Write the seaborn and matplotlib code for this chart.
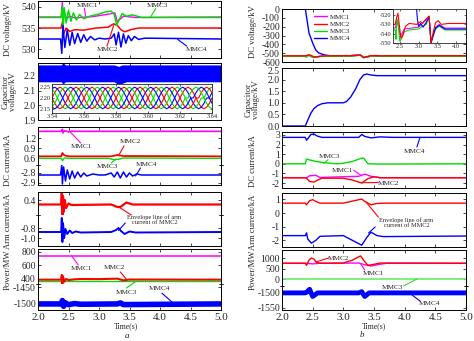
import numpy as np
import matplotlib
matplotlib.use("Agg")
import matplotlib.pyplot as plt
from matplotlib.lines import Line2D
from matplotlib.transforms import ScaledTranslation
import seaborn as sns

sns.set_style("ticks")
plt.rcParams['font.family'] = ['Liberation Serif', 'DejaVu Serif']
plt.rcParams['axes.unicode_minus'] = False

C1, C2, C3, C4 = '#ff00ff', '#ff0000', '#00dd00', '#0000ff'
series_names = ['MMC1', 'MMC2', 'MMC3', 'MMC4']
time_ticks = [2.0, 2.5, 3.0, 3.5, 4.0, 4.5, 5.0]
time_labels = ['2.0', '2.5', '3.0', '3.5', '4.0', '4.5', '5.0']

# ---------------- (a) DC voltage / kV ----------------
a_v1_t = [2.0, 2.38, 2.40, 2.41, 2.43, 2.47, 2.52, 2.60, 2.9, 3.2, 3.26, 3.3, 3.4, 3.6, 5.0]
a_v1 = [537.6, 537.6, 541.2, 537.0, 538.5, 537.2, 537.8, 537.4, 537.7, 538.4, 538.6, 536.5, 537.8, 537.5, 537.6]
a_v2_t = [2.0, 2.38, 2.40, 2.42, 2.46, 2.52, 2.60, 2.75, 2.95, 3.15, 3.24, 3.30, 3.36, 3.42, 3.52, 3.65, 5.0]
a_v2 = [535.0, 535.0, 536.4, 533.6, 535.0, 534.2, 534.6, 534.5, 535.0, 535.2, 536.0, 535.6, 534.6, 534.1, 534.6, 535.0, 535.0]
a_v3_t = [2.0, 2.38, 2.40, 2.41, 2.43, 2.46, 2.50, 2.54, 2.58, 2.63, 2.68, 2.75, 2.85, 3.0, 3.1, 3.2,
          3.25, 3.29, 3.33, 3.38, 3.45, 3.55, 3.7, 5.0]
a_v3 = [537.5, 537.5, 540.2, 534.8, 539.8, 536.2, 539.2, 536.6, 538.6, 536.9, 538.2, 537.2, 537.8, 538.3, 538.8, 539.0,
        538.2, 535.6, 537.0, 538.4, 537.8, 538.1, 537.5, 537.5]
a_v4_t = [2.0, 2.37, 2.39, 2.41, 2.44, 2.48, 2.52, 2.56, 2.60, 2.65, 2.70, 2.75, 2.80, 2.86, 2.93, 3.0, 3.1, 3.2,
          3.25, 3.28, 3.32, 3.36, 3.40, 3.44, 3.48, 3.53, 3.58, 3.65, 3.75, 5.0]
a_v4 = [532.4, 532.4, 529.0, 535.6, 530.4, 534.6, 530.9, 534.0, 531.3, 533.7, 531.6, 533.4, 531.9, 533.0, 532.2, 532.6,
        532.4, 532.6, 533.6, 531.0, 534.0, 530.5, 533.6, 531.4, 533.2, 532.0, 533.0, 532.3, 532.6, 532.4]

# ---------------- (a) Capacitor voltage / kV ----------------
a_cap_t = [2.0, 2.38, 2.41, 2.45, 2.5, 3.25, 3.32, 3.38, 3.45, 5.0]
a_cap_hi = [2.275, 2.275, 2.29, 2.275, 2.275, 2.275, 2.265, 2.275, 2.275, 2.275]
a_cap_lo = [2.16, 2.16, 2.145, 2.16, 2.16, 2.16, 2.14, 2.15, 2.16, 2.16]
inset_cycle = [2.200, 2.225, 2.243, 2.250, 2.243, 2.225, 2.200, 2.175, 2.157, 2.150, 2.157, 2.175]
inset_colors = [C2, C4, C3, C2, C4, C3]
inset_xticks = [3.54, 3.56, 3.58, 3.60, 3.62, 3.64]
inset_yticks = [2.15, 2.20, 2.25]

# ---------------- (a) DC current / kA ----------------
a_i1_t = [2.0, 2.38, 2.40, 2.41, 2.43, 2.47, 2.5, 2.55, 2.6, 5.0]
a_i1 = [1.40, 1.40, 1.46, 1.35, 1.42, 1.40, 1.38, 1.41, 1.40, 1.40]
a_i2_t = [2.0, 2.38, 2.40, 2.42, 2.45, 2.5, 3.2, 3.3, 3.4, 5.0]
a_i2 = [0.65, 0.65, 0.75, 0.70, 0.67, 0.65, 0.65, 0.69, 0.66, 0.65]
a_i3_t = [2.0, 2.38, 2.40, 2.43, 2.5, 3.15, 3.25, 3.32, 3.4, 5.0]
a_i3 = [0.59, 0.59, 0.52, 0.60, 0.59, 0.59, 0.55, 0.56, 0.60, 0.59]
a_i4_t = [2.0, 2.37, 2.39, 2.40, 2.42, 2.45, 2.48, 2.52, 2.56, 2.60, 2.65, 2.70, 2.75, 2.80, 2.9, 3.0, 3.1, 3.2,
          3.25, 3.3, 3.35, 3.4, 3.45, 3.5, 3.55, 3.62, 3.7, 5.0]
a_i4 = [-2.82, -2.82, -2.72, -2.91, -2.74, -2.88, -2.77, -2.86, -2.78, -2.85, -2.79, -2.84, -2.80, -2.83, -2.81,
        -2.82, -2.82, -2.80, -2.84, -2.79, -2.85, -2.79, -2.84, -2.80, -2.83, -2.81, -2.82, -2.82]

# ---------------- (a) Arm current / kA ----------------
a_arm_up_t = [2.0, 2.38, 2.39, 2.40, 2.41, 2.42, 2.44, 2.46, 2.5, 2.55, 3.2, 3.3, 3.35, 3.45, 3.55, 5.0]
a_arm_up = [0.31, 0.31, 0.54, 0.10, 0.48, 0.16, 0.40, 0.24, 0.33, 0.30, 0.31, 0.26, 0.26, 0.35, 0.31, 0.31]
a_arm_lo_t = [2.0, 2.38, 2.39, 2.40, 2.41, 2.43, 2.45, 2.48, 2.52, 2.56, 2.62, 2.7, 3.2, 3.28, 3.32, 3.36, 3.42,
              3.5, 3.6, 5.0]
a_arm_lo = [-0.88, -0.88, -0.60, -1.08, -0.70, -1.00, -0.82, -0.92, -0.85, -0.90, -0.87, -0.89, -0.88, -0.84,
            -0.80, -0.86, -0.92, -0.87, -0.89, -0.88]

# ---------------- (a) Power / MW ----------------
a_p1_t = [2.0, 5.0]
a_p1 = [745, 745]
a_p2_t = [2.0, 2.38, 2.39, 2.40, 2.41, 2.43, 2.46, 2.5, 2.6, 2.7, 3.0, 3.3, 3.4, 3.5, 5.0]
a_p2 = [390, 390, 460, 330, 440, 360, 400, 385, 395, 400, 398, 405, 380, 392, 390]
a_p3_t = [2.0, 5.0]
a_p3 = [368, 368]
a_p4_t = [2.0, 2.38, 2.40, 2.42, 2.45, 2.5, 2.6, 2.7, 3.3, 3.35, 3.4, 5.0]
a_p4 = [-1500, -1500, -1490, -1507, -1497, -1502, -1499, -1501, -1500, -1497, -1502, -1500]

# ---------------- (b) DC voltage / kV ----------------
b_v1_t = [2.0, 2.38, 2.43, 2.52, 2.62, 3.0, 3.28, 3.33, 3.45, 3.55, 3.7, 5.0]
b_v1 = [-534, -534, -526, -543, -535, -533, -522, -549, -533, -530, -534, -534]
b_v2_t = [2.0, 2.38, 2.42, 2.45, 2.48, 2.53, 2.58, 2.65, 2.75, 2.95, 3.05, 3.1, 3.18, 3.28, 3.33, 3.38, 3.45,
          3.52, 3.6, 3.8, 5.0]
b_v2 = [-530, -530, -522, -518, -528, -545, -542, -532, -529, -530, -527, -529, -525, -521, -550, -540, -528,
        -526, -530, -529, -529]
b_v3_t = [2.0, 2.38, 2.40, 2.42, 2.45, 2.5, 2.55, 2.62, 2.75, 3.0, 3.1, 3.2, 3.28, 3.33, 3.38, 3.45, 3.55, 3.7, 5.0]
b_v3 = [-536, -536, -546, -524, -527, -548, -545, -538, -536, -535, -532, -530, -523, -550, -543, -535, -532,
        -536, -536]
b_v4_t = [2.0, 2.38, 2.40, 2.44, 2.50, 2.55, 2.60, 2.69, 2.8, 3.0, 3.28, 3.33, 3.45, 3.55, 3.7, 5.0]
b_v4 = [0, 0, -87, -272, -385, -464, -498, -520, -531, -534, -522, -550, -534, -531, -535, -535]
b_inset_v4_t = [2.93, 2.97, 3.0, 3.05, 3.12, 3.2, 3.28, 3.33, 3.45, 3.55, 3.7, 4.3]
b_inset_v4 = [-505, -525, -532, -529, -533, -528, -522, -550, -534, -531, -535, -535]

# ---------------- (b) Capacitor voltage / kV ----------------
b_cap_t = [2.0, 2.38, 2.42, 2.47, 2.52, 2.58, 2.65, 2.75, 3.0, 3.05, 3.12, 3.2, 3.27, 3.33, 3.38, 3.45, 3.55, 5.0]
b_cap = [0, 0, 0.25, 0.55, 0.75, 0.88, 0.96, 1.0, 1.0, 1.05, 1.25, 1.6, 2.0, 2.2, 2.24, 2.2, 2.17, 2.17]

# ---------------- (b) DC current / kA ----------------
b_i1_t = [2.0, 2.40, 2.45, 2.55, 2.62, 3.25, 3.35, 3.45, 3.6, 5.0]
b_i1 = [-1.45, -1.45, -1.25, -1.2, -1.42, -1.3, -1.08, -1.3, -1.45, -1.45]
b_i2_t = [2.0, 2.38, 2.40, 2.45, 2.52, 2.58, 2.65, 3.0, 3.15, 3.3, 3.4, 3.5, 3.6, 5.0]
b_i2 = [-1.45, -1.45, -1.5, -1.85, -1.9, -1.7, -1.5, -1.5, -1.7, -2.0, -1.55, -1.35, -1.45, -1.45]
b_i3_t = [2.0, 2.38, 2.40, 2.45, 2.55, 2.65, 2.8, 2.9, 3.0, 3.15, 3.28, 3.33, 3.40, 3.6, 5.0]
b_i3 = [0, 0, 0.5, 0.4, 0.25, 0.15, 0.05, 0, 0.05, 0.25, 0.55, 0.6, 0.0, -0.03, 0]
b_i4_t = [2.0, 2.38, 2.40, 2.42, 2.47, 2.52, 2.57, 2.65, 3.25, 3.3, 3.35, 3.45, 3.6, 3.8, 5.0]
b_i4 = [2.75, 2.75, 2.45, 2.6, 3.05, 3.1, 2.9, 2.75, 2.75, 3.05, 2.85, 2.7, 2.8, 2.75, 2.75]

# ---------------- (b) Arm current / kA ----------------
b_arm_r_t = [2.0, 2.38, 2.40, 2.45, 2.5, 2.55, 2.62, 3.0, 3.3, 3.35, 3.45, 3.55, 3.7, 5.0]
b_arm_r = [0.72, 0.72, 0.6, 0.9, 0.97, 0.85, 0.72, 0.72, 1.02, 0.85, 0.6, 0.7, 0.72, 0.72]
b_arm_b_t = [2.0, 2.38, 2.40, 2.42, 2.48, 2.55, 2.62, 3.0, 3.3, 3.38, 3.45, 3.55, 3.65, 5.0]
b_arm_b = [-1.65, -1.65, -1.45, -1.9, -2.2, -2.0, -1.7, -1.65, -2.35, -1.8, -1.4, -1.65, -1.72, -1.68]

# ---------------- (b) Power / MW ----------------
b_p1_t = [2.0, 2.4, 2.5, 2.6, 3.25, 3.35, 3.45, 3.6, 3.7, 5.0]
b_p1 = [750, 750, 720, 750, 760, 680, 620, 700, 750, 750]
b_p2_t = [2.0, 2.38, 2.40, 2.44, 2.48, 2.52, 2.56, 2.62, 3.0, 3.15, 3.28, 3.33, 3.40, 3.5, 3.6, 5.0]
b_p2 = [750, 750, 650, 900, 1000, 950, 800, 750, 760, 900, 1100, 900, 650, 700, 760, 750]
b_p3_t = [2.0, 5.0]
b_p3 = [0, 0]
b_p4_t = [2.0, 2.38, 2.40, 2.45, 2.5, 2.58, 3.25, 3.3, 3.35, 3.42, 5.0]
b_p4 = [-1500, -1500, -1498, -1488, -1512, -1500, -1500, -1496, -1512, -1500, -1500]

# =====================================================================
W, H = 474, 341
fig = plt.figure(figsize=(W / 100, H / 100), dpi=100)


def add_ax(x0, y0, x1, y1):
    ax = fig.add_axes([x0 / W, 1 - y1 / H, (x1 - x0) / W, (y1 - y0) / H])
    ax.set_facecolor('none')
    return ax


def line(ax, t, v, c, lw=1.0, z=2):
    sns.lineplot(x=t, y=v, ax=ax, color=c, linewidth=lw, estimator=None, sort=False,
                 legend=False, zorder=z)


def frame(ax, ylim, yticks, ylabels, top=True, bottom=True, xlabels=False, ysize=7):
    ax.set_xlim(2.0, 5.0)
    ax.set_ylim(*ylim)
    ax.set_xticks(time_ticks)
    ax.set_xticklabels(time_labels if xlabels else [])
    ax.set_yticks(yticks)
    ax.set_yticklabels(ylabels)
    ax.tick_params(axis='both', direction='in', length=2.5, width=0.6, top=top, bottom=bottom,
                   left=True, right=True, labelsize=ysize, pad=1.5)
    ax.tick_params(axis='x', labelsize=8, pad=2)
    for s in ax.spines.values():
        s.set_linewidth(0.7)
        s.set_color('black')
    ax.spines['top'].set_visible(top)
    ax.spines['bottom'].set_visible(bottom)
    ax.set_xlabel('')
    ax.set_ylabel('')


def nudge(lbl, dy_px):
    lbl.set_transform(lbl.get_transform() + ScaledTranslation(0, dy_px / 100, fig.dpi_scale_trans))


def break_mark(ax):
    for x in (0, 1):
        ax.plot([x - 0.012, x + 0.012], [0, 0], transform=ax.transAxes, color='black', lw=0.6, clip_on=False)


def pointer(ax_from, p_from, ax_to, p_to, c):
    ax_to.annotate('', xy=p_to, xycoords=ax_to.transData, xytext=p_from, textcoords=ax_from.transData,
                   arrowprops=dict(arrowstyle='-', color=c, lw=0.8, shrinkA=0, shrinkB=0),
                   annotation_clip=False)


def label(ax, p, s, size=5.2):
    ax.text(p[0], p[1], s, fontsize=size, ha='center', va='center', clip_on=False, linespacing=1.0)


def ylab(x, y, s):
    fig.text(x / W, 1 - y / H, s, rotation=90, ha='center', va='center', fontsize=6.2, linespacing=0.95)


# ======================= Panel (a) =======================
LX0, LX1 = 38, 221
# DC voltage
ax = add_ax(LX0, 1, LX1, 58)
line(ax, a_v1_t, a_v1, C1)
line(ax, a_v2_t, a_v2, C2, 1.1)
line(ax, a_v3_t, a_v3, C3, 1.1)
line(ax, a_v4_t, a_v4, C4, 1.1)
frame(ax, (527.9, 541.4), [530, 535, 540], ['530', '535', '540'])
label(ax, (2.81, 540.4), 'MMC1'); pointer(ax, (2.76, 539.7), ax, (2.78, 537.8), C1)
label(ax, (3.96, 540.4), 'MMC3'); pointer(ax, (3.93, 539.6), ax, (3.85, 537.7), C3)
label(ax, (3.14, 529.8), 'MMC2'); pointer(ax, (3.13, 530.7), ax, (3.24, 535.6), C2)
label(ax, (4.60, 529.8), 'MMC4'); pointer(ax, (4.44, 530.7), ax, (4.29, 532.3), C4)
ylab(8, 30, 'DC voltage/kV')

# Capacitor voltage
ax = add_ax(LX0, 63, LX1, 120)
ax.fill_between(a_cap_t, a_cap_lo, a_cap_hi, color=C4, lw=0)
frame(ax, (1.90, 2.288), [1.9, 2.0, 2.1, 2.2], ['1.9', '2.0', '2.1', '2.2'])
ylab(9, 92, 'Capacitor\nvoltage/kV')
axi = add_ax(52, 84, 212, 113)
axi.set_facecolor('white')
n_cyc = 5
inset_t = np.linspace(3.54, 3.64, n_cyc * len(inset_cycle) + 1)
for k, c in enumerate(inset_colors):
    shift = k * len(inset_cycle) // 6
    vals = np.roll(np.array(inset_cycle * n_cyc + inset_cycle[:1]), -shift)
    line(axi, list(inset_t), list(vals), c, 0.8)
axi.set_xlim(3.54, 3.64)
axi.set_ylim(2.13, 2.265)
axi.set_xticks(inset_xticks)
axi.set_xticklabels(['%.2f' % v for v in inset_xticks])
axi.set_yticks(inset_yticks)
axi.set_yticklabels(['%.2f' % v for v in inset_yticks])
axi.tick_params(direction='in', length=1.5, width=0.5, labelsize=4.6, pad=1, top=True, right=True)
for s in axi.spines.values():
    s.set_linewidth(0.6)
axi.set_xlabel(''); axi.set_ylabel('')

# DC current (broken)
axu = add_ax(LX0, 127, LX1, 165)
axl = add_ax(LX0, 165, LX1, 185)
line(axu, a_i1_t, a_i1, C1, 1.2)
line(axu, a_i2_t, a_i2, C2, 1.3)
line(axu, a_i3_t, a_i3, C3, 1.0)
line(axl, a_i4_t, a_i4, C4, 1.1)
frame(axu, (0.39, 1.53), [0.6, 0.9, 1.2], ['0.6', '0.9', '1.2'], bottom=False)
frame(axl, (-2.92, -2.72), [-2.9, -2.8], ['-2.9', '-2.8'], top=False)
break_mark(axu)
label(axu, (2.72, 0.93), 'MMC1'); pointer(axu, (2.70, 1.05), axu, (2.52, 1.40), C1)
label(axu, (3.52, 1.10), 'MMC2'); pointer(axu, (3.41, 0.96), axu, (3.32, 0.67), C2)
label(axu, (3.14, 0.33), 'MMC3'); pointer(axu, (3.20, 0.45), axu, (3.28, 0.57), C3)
label(axu, (3.78, 0.42), 'MMC4'); pointer(axu, (3.68, 0.30), axl, (3.60, -2.83), C4)
ylab(8, 160, 'DC current/kA')

# Arm current (broken)
axu = add_ax(LX0, 192, LX1, 215)
axl = add_ax(LX0, 215, LX1, 246)
line(axu, a_arm_up_t, a_arm_up, C2, 1.6)
line(axl, a_arm_lo_t, a_arm_lo, C4, 1.4)
frame(axu, (0.10, 0.56), [0.4], ['0.4'], bottom=False)
frame(axl, (-1.16, -0.54), [-1.0, -0.8], ['-1.0', '-0.8'], top=False)
break_mark(axu)
label(axu, (3.91, 0.0), 'Envelope line of arm\ncurrent of MMC2', 4.6)
pointer(axu, (3.53, 0.10), axu, (3.31, 0.27), C2)
pointer(axl, (3.43, -0.70), axl, (3.32, -0.85), C4)
ylab(8, 221, 'Arm current/kA')

# Power (broken)
axu = add_ax(LX0, 249, LX1, 284)
axl = add_ax(LX0, 284, LX1, 310)
line(axu, a_p1_t, a_p1, C1, 1.1)
line(axu, a_p3_t, a_p3, C3, 1.0)
line(axu, a_p2_t, a_p2, C2, 1.5)
line(axl, a_p4_t, a_p4, C4, 4.0)
frame(axu, (326, 844), [400, 600, 800], ['400', '600', '800'], bottom=False)
frame(axl, (-1518, -1441), [-1500, -1450], ['-1500', '-1450'], top=False, xlabels=True)
break_mark(axu)
label(axu, (2.71, 548), 'MMC1'); pointer(axu, (2.66, 607), axu, (2.55, 745), C1)
label(axu, (3.25, 563), 'MMC2'); pointer(axu, (3.35, 504), axu, (3.45, 395), C2)
label(axl, (3.45, -1465), 'MMC3'); pointer(axl, (3.45, -1453), axu, (3.61, 368), C3)
label(axl, (3.99, -1453), 'MMC4'); pointer(axl, (4.03, -1468), axl, (4.22, -1498), C4)
ylab(8, 270, 'Power/MW')
fig.text(126 / W, 1 - 326 / H, 'Time(s)', ha='center', va='center', fontsize=5.6)
fig.text(127 / W, 1 - 336 / H, 'a', ha='center', va='center', fontsize=6.5, style='italic')

# ======================= Panel (b) =======================
RX0, RX1 = 282, 466
# DC voltage
ax = add_ax(RX0, 9, RX1, 62)
line(ax, b_v4_t, b_v4, C4, 1.0)
line(ax, b_v1_t, b_v1, C1, 1.0)
line(ax, b_v3_t, b_v3, C3, 1.0)
line(ax, b_v2_t, b_v2, C2, 1.0)
frame(ax, (-600, 0), [-600, -500, -400, -300, -200, -100, 0],
      ['-600', '-500', '-400', '-300', '-200', '-100', '0'])
handles = [Line2D([], [], color=c, lw=1.0) for c in (C1, C2, C3, C4)]
ax.legend(handles, series_names, loc='upper left', bbox_to_anchor=(0.15, 1.0), frameon=False,
          fontsize=5, handlelength=1.8, handletextpad=0.4, labelspacing=0.2, borderpad=0.2)
ylab(253, 32, 'DC voltage/kV')
axi = add_ax(393, 9, 466, 43)
axi.set_facecolor('white')
line(axi, b_v1_t, b_v1, C1, 0.8)
line(axi, b_v3_t, b_v3, C3, 0.8)
line(axi, b_inset_v4_t, b_inset_v4, C4, 0.8)
line(axi, b_v2_t, b_v2, C2, 0.8)
axi.set_xlim(2.32, 4.26)
axi.set_ylim(-550, -513.5)
axi.set_xticks([2.5, 3.0, 3.5, 4.0])
axi.set_xticklabels(['2.5', '3.0', '3.5', '4.0'])
axi.set_yticks([-550, -540, -530, -520])
axi.set_yticklabels(['-550', '-540', '-530', '-520'])
axi.tick_params(direction='in', length=1.5, width=0.5, labelsize=4.6, pad=1, top=True, right=True)
for s in axi.spines.values():
    s.set_linewidth(0.6)
axi.set_xlabel(''); axi.set_ylabel('')

# Capacitor voltage
ax = add_ax(RX0, 68, RX1, 126)
line(ax, b_cap_t, b_cap, C4, 1.0)
frame(ax, (0, 2.5), [0, 0.5, 1.0, 1.5, 2.0, 2.5], ['0.0', '0.5', '1.0', '1.5', '2.0', '2.5'])
nudge(ax.get_yticklabels()[-1], -2.6)
ylab(252, 100, 'Capacitor\nvoltage/kV')

# DC current
ax = add_ax(RX0, 132, RX1, 188)
line(ax, b_i4_t, b_i4, C4, 1.0)
line(ax, b_i3_t, b_i3, C3, 1.0)
line(ax, b_i1_t, b_i1, C1, 1.0)
line(ax, b_i2_t, b_i2, C2, 1.0)
frame(ax, (-2.52, 3.31), [-2, -1, 0, 1, 2, 3], ['-2', '-1', '0', '1', '2', '3'])
label(ax, (2.78, 0.81), 'MMC3'); pointer(ax, (2.75, 0.42), ax, (2.68, 0.03), C3)
label(ax, (4.16, 1.28), 'MMC4'); pointer(ax, (4.20, 1.75), ax, (4.25, 2.75), C4)
label(ax, (2.99, -0.70), 'MMC1'); pointer(ax, (3.17, -0.68), ax, (3.30, -1.25), C1)
label(ax, (3.73, -2.05), 'MMC2'); pointer(ax, (3.57, -1.95), ax, (3.30, -1.97), C2)
ylab(253, 161, 'DC current/kA')

# Arm current
ax = add_ax(RX0, 193, RX1, 247)
line(ax, b_arm_r_t, b_arm_r, C2, 1.0)
line(ax, b_arm_b_t, b_arm_b, C4, 1.0)
frame(ax, (-2.48, 1.46), [-2, -1, 0, 1], ['-2', '-1', '0', '1'])
label(ax, (4.03, -0.73), 'Envelope line of arm\ncurrent of MMC2', 4.6)
pointer(ax, (3.57, -0.29), ax, (3.37, 0.80), C2)
pointer(ax, (3.52, -1.02), ax, (3.41, -1.46), C4)
ylab(253, 222, 'Arm current/kA')

# Power (broken)
axu = add_ax(RX0, 250, RX1, 286)
axl = add_ax(RX0, 286, RX1, 310)
line(axu, b_p3_t, b_p3, '#66ee66', 1.2)
line(axu, b_p1_t, b_p1, C1, 1.0)
line(axu, b_p2_t, b_p2, C2, 1.0)
line(axl, b_p4_t, b_p4, C4, 3.5)
frame(axu, (-333, 1381), [0, 500, 1000], ['0', '500', '1000'], bottom=False)
frame(axl, (-1557, -1477), [-1550, -1500], ['-1550', '-1500'], top=False, xlabels=True)
break_mark(axu)
label(axu, (2.92, 976), 'MMC2'); pointer(axu, (2.76, 1000), axu, (2.56, 820), C2)
label(axu, (3.49, 262), 'MMC1'); pointer(axu, (3.35, 428), axu, (3.28, 740), C1)
label(axl, (3.80, -1482), 'MMC3'); pointer(axl, (3.98, -1477), axu, (4.20, 0), '#33dd33')
label(axl, (4.41, -1535), 'MMC4'); pointer(axl, (4.25, -1527), axl, (4.12, -1507), C4)
ylab(253, 270, 'Power/MW')
fig.text(374 / W, 1 - 326 / H, 'Time(s)', ha='center', va='center', fontsize=5.6)
fig.text(362 / W, 1 - 335 / H, 'b', ha='center', va='center', fontsize=6.5, style='italic')

fig.savefig('out.png', dpi=100)
